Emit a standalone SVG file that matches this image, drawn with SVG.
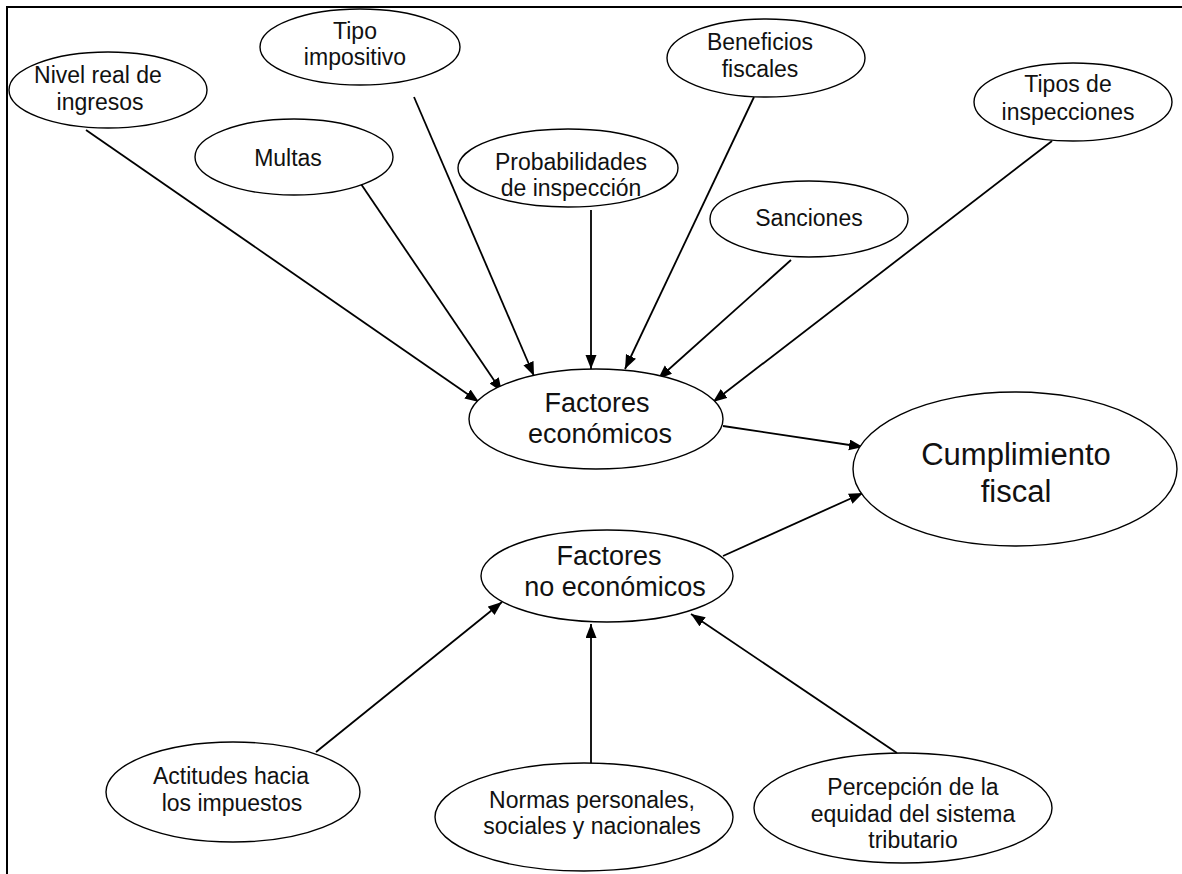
<svg xmlns="http://www.w3.org/2000/svg" width="1182" height="874" viewBox="0 0 1182 874">
  <style>
    .node ellipse { fill: #fff; stroke: #000; stroke-width: 1.4; }
    text { font-family: "Liberation Sans", Arial, sans-serif; fill: #111; text-anchor: middle; }
    .s { font-size: 23px; }
    .m { font-size: 27px; }
    .l { font-size: 31px; }
    .edge line { stroke: #000; stroke-width: 1.8; marker-end: url(#arrow); }
  </style>
  <defs>
    <marker id="arrow" markerUnits="userSpaceOnUse" markerWidth="15" markerHeight="12" refX="14" refY="5.5" orient="auto">
      <path d="M0,0 L14,5.5 L0,11 z" fill="#000"/>
    </marker>
  </defs>
  <rect width="1182" height="874" fill="#fff"/>
  <!-- frame: top and left edges only -->
  <path d="M7,874 V7 H1182" fill="none" stroke="#000" stroke-width="2"/>

  <g class="edge">
    <line x1="86" y1="130" x2="479" y2="402"/>
    <line x1="361" y1="184" x2="502" y2="392"/>
    <line x1="414" y1="97" x2="534" y2="376"/>
    <line x1="591" y1="210" x2="591" y2="369"/>
    <line x1="754" y1="97" x2="625" y2="369"/>
    <line x1="791" y1="260" x2="658" y2="379"/>
    <line x1="1052" y1="141" x2="713" y2="402"/>
    <line x1="723" y1="426" x2="863" y2="447"/>
    <line x1="723" y1="556" x2="863" y2="493"/>
    <line x1="316" y1="752" x2="502" y2="602"/>
    <line x1="591" y1="764" x2="591" y2="624"/>
    <line x1="897" y1="753" x2="691" y2="614"/>
  </g>

  <g id="nivel" class="node">
    <ellipse cx="108" cy="90" rx="99" ry="38"/>
    <text class="s" x="98" y="83">Nivel real de</text>
    <text class="s" x="100" y="110">ingresos</text>
  </g>
  <g id="multas" class="node">
    <ellipse cx="294" cy="157" rx="99" ry="38"/>
    <text class="s" x="288" y="166">Multas</text>
  </g>
  <g id="tipo" class="node">
    <ellipse cx="360" cy="47" rx="100" ry="38"/>
    <text class="s" x="355" y="39">Tipo</text>
    <text class="s" x="355" y="65">impositivo</text>
  </g>
  <g id="probabilidades" class="node">
    <ellipse cx="568" cy="168" rx="110" ry="39"/>
    <text class="s" x="571" y="170">Probabilidades</text>
    <text class="s" x="571" y="196">de inspección</text>
  </g>
  <g id="beneficios" class="node">
    <ellipse cx="766" cy="58" rx="99" ry="39"/>
    <text class="s" x="760" y="50">Beneficios</text>
    <text class="s" x="760" y="77">fiscales</text>
  </g>
  <g id="sanciones" class="node">
    <ellipse cx="809" cy="219" rx="99" ry="38"/>
    <text class="s" x="809" y="226">Sanciones</text>
  </g>
  <g id="tipos-inspecciones" class="node">
    <ellipse cx="1073" cy="102" rx="99" ry="39"/>
    <text class="s" x="1068" y="92">Tipos de</text>
    <text class="s" x="1068" y="120">inspecciones</text>
  </g>
  <g id="factores-economicos" class="node">
    <ellipse cx="596" cy="419" rx="127" ry="50"/>
    <text class="m" x="597" y="412">Factores</text>
    <text class="m" x="600" y="443">económicos</text>
  </g>
  <g id="cumplimiento" class="node">
    <ellipse cx="1015" cy="469" rx="162" ry="77"/>
    <text class="l" x="1016" y="465">Cumplimiento</text>
    <text class="l" x="1016" y="502">fiscal</text>
  </g>
  <g id="factores-no-economicos" class="node">
    <ellipse cx="607" cy="576" rx="126" ry="46"/>
    <text class="m" x="609" y="565">Factores</text>
    <text class="m" x="615" y="596">no económicos</text>
  </g>
  <g id="actitudes" class="node">
    <ellipse cx="233" cy="792" rx="127" ry="50"/>
    <text class="s" x="231" y="784">Actitudes hacia</text>
    <text class="s" x="232" y="811">los impuestos</text>
  </g>
  <g id="normas" class="node">
    <ellipse cx="584" cy="817" rx="149" ry="54"/>
    <text class="s" x="592" y="808">Normas personales,</text>
    <text class="s" x="592" y="834">sociales y nacionales</text>
  </g>
  <g id="percepcion" class="node">
    <ellipse cx="903" cy="808" rx="149" ry="55"/>
    <text class="s" x="913" y="795">Percepción de la</text>
    <text class="s" x="913" y="822">equidad del sistema</text>
    <text class="s" x="913" y="848">tributario</text>
  </g>
</svg>
